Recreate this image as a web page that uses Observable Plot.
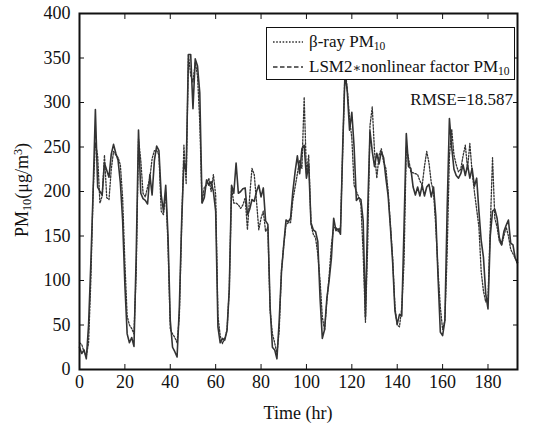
<!DOCTYPE html>
<html><head><meta charset="utf-8">
<script src="https://cdn.jsdelivr.net/npm/d3@7"></script>
<script src="https://cdn.jsdelivr.net/npm/@observablehq/plot@0.6"></script>
<style>
body{margin:0;background:#fff;}
#wrap{position:relative;width:541px;height:429px;font-family:"Liberation Serif","Times New Roman",serif;color:#111;}
.ov{position:absolute;white-space:nowrap;line-height:1;}
sub{font-size:0.68em;vertical-align:-0.25em;}
sup{font-size:0.68em;vertical-align:0.5em;}
#legend{position:absolute;left:266px;top:27px;width:247px;height:51px;border:1.5px solid #111;background:#fff;font-size:17px;}
#legend .row{position:absolute;left:6px;display:flex;align-items:center;gap:6px;white-space:nowrap;}
.ast{font-family:"DejaVu Serif",serif;font-size:0.75em;}
</style></head><body><div id="wrap"></div>
<script>
// beta-ray measured PM10 (dotted), hourly t = 0..193
const betaRay = [
 30,28,20,15,30,100,200,255,240,187,
 195,241,193,191,225,245,241,238,230,193,
 120,60,50,46,40,110,259,235,198,194,
 205,215,237,246,246,241,178,174,200,140,
 45,40,36,30,60,160,252,209,354,330,
 323,345,330,278,187,205,207,215,200,219,
 196,60,38,29,35,44,90,204,187,187,
 185,181,185,193,157,195,226,219,189,157,
 170,178,155,160,66,40,30,18,44,111,
 140,163,165,165,190,205,220,235,226,306,
 220,241,163,152,148,130,100,59,44,77,
 105,140,159,160,155,160,248,338,315,282,
 260,207,200,194,185,130,53,141,274,295,
 245,215,241,248,233,226,200,163,125,70,
 50,48,70,120,250,237,222,221,220,219,
 212,207,228,245,232,210,200,160,110,70,
 45,55,130,240,270,241,230,222,225,240,
 252,226,254,222,200,180,160,110,88,76,
 80,160,238,170,160,144,140,150,160,150,
 135,130,125,118
];
// LSM2 * nonlinear factor PM10 (dashed, appears solid), hourly t = 0..193
const lsmPM10 = [
 25,18,22,12,50,120,200,292,205,200,
 196,232,224,216,242,253,243,235,210,168,
 95,40,30,36,26,130,269,198,192,190,
 186,219,196,235,251,246,196,178,207,150,
 55,25,20,14,70,165,233,222,354,354,
 293,349,341,311,187,193,213,207,211,200,
 178,48,30,35,33,44,90,207,198,232,
 198,200,203,204,174,180,191,189,200,207,
 194,204,167,163,70,25,22,12,55,110,
 140,168,166,170,200,222,240,220,248,252,
 215,230,165,157,155,144,80,35,45,80,
 100,125,170,156,158,152,252,334,312,269,
 289,250,190,193,191,167,59,180,268,245,
 228,243,231,245,238,215,195,160,120,66,
 51,62,60,160,265,228,226,205,196,205,
 195,207,195,205,208,194,205,172,103,42,
 38,55,180,282,250,225,218,215,220,230,
 218,230,215,226,206,215,178,145,126,85,
 68,150,178,180,170,148,140,155,162,168,
 142,140,125,120
];
const xTicks = [0,20,40,60,80,100,120,140,160,180];
const yTicks = [0,50,100,150,200,250,300,350,400];
const legendLabels = [["β-ray PM", ""], ["LSM2", "nonlinear factor PM"]];
const rmseText = "RMSE=18.587";

const ink = "#111";
const lineCol = "#333";
const serif = "Liberation Serif";

const chart = Plot.plot({
  width: 541, height: 429,
  marginLeft: 79, marginRight: 24, marginTop: 13, marginBottom: 60,
  style: {fontFamily: serif, fontSize: "17px", color: ink, background: "#fff"},
  x: {domain: [0, 193]},
  y: {domain: [0, 400]},
  marks: [
    Plot.lineY(betaRay, {stroke: lineCol, strokeWidth: 1.3, strokeDasharray: "1.6,1.6"}),
    Plot.lineY(lsmPM10, {stroke: lineCol, strokeWidth: 1.6}),
    Plot.axisX(xTicks, {anchor: "bottom", tickSize: -5, tickPadding: 11, label: null, fontSize: 18, stroke: ink}),
    Plot.axisX(xTicks, {anchor: "top", tickSize: -5, tickFormat: () => "", label: null, stroke: ink}),
    Plot.axisY(yTicks, {anchor: "left", tickSize: -5, tickPadding: 14, label: null, fontSize: 18, stroke: ink}),
    Plot.axisY(yTicks, {anchor: "right", tickSize: -5, tickFormat: () => "", label: null, stroke: ink}),
    Plot.frame({stroke: ink, strokeWidth: 2})
  ]
});
d3.select(chart).selectAll("text").style("font-family", "'Liberation Serif', 'Times New Roman', serif");
d3.select(chart).selectAll("g").filter(function(){ return this.getAttribute("font-family"); })
  .attr("font-family", "Liberation Serif");
const wrap = document.getElementById("wrap");
wrap.appendChild(chart);

// y label
const yl = document.createElement("div");
yl.className = "ov";
yl.style.cssText = "left:23px;top:190px;font-size:18px;transform:translate(-50%,-50%) rotate(-90deg);";
yl.innerHTML = "PM<sub>10</sub>(μg/m<sup>3</sup>)";
wrap.appendChild(yl);

// x label
const xl = document.createElement("div");
xl.className = "ov";
xl.style.cssText = "left:298px;top:413px;font-size:18px;transform:translate(-50%,-50%);";
xl.textContent = "Time (hr)";
wrap.appendChild(xl);

// legend
const lg = document.createElement("div");
lg.id = "legend";
const dashes = ["1.6,1.6", "4.5,2.5"];
legendLabels.forEach(([a, b], i) => {
  const row = document.createElement("div");
  row.className = "row";
  row.style.top = (i === 0 ? 4 : 29) + "px";
  const txt = b ? `${a}<span class="ast">∗</span>${b}<sub>10</sub>` : `${a}<sub>10</sub>`;
  row.innerHTML = `<svg width="30" height="16"><line x1="0" x2="30" y1="8" y2="8" stroke="${lineCol}" stroke-width="1.3" stroke-dasharray="${dashes[i]}"/></svg><span>${txt}</span>`;
  lg.appendChild(row);
});
wrap.appendChild(lg);

// RMSE
const rm = document.createElement("div");
rm.className = "ov";
rm.style.cssText = "right:28px;top:91px;font-size:17px;";
rm.textContent = rmseText;
wrap.appendChild(rm);
</script>
</body></html>
